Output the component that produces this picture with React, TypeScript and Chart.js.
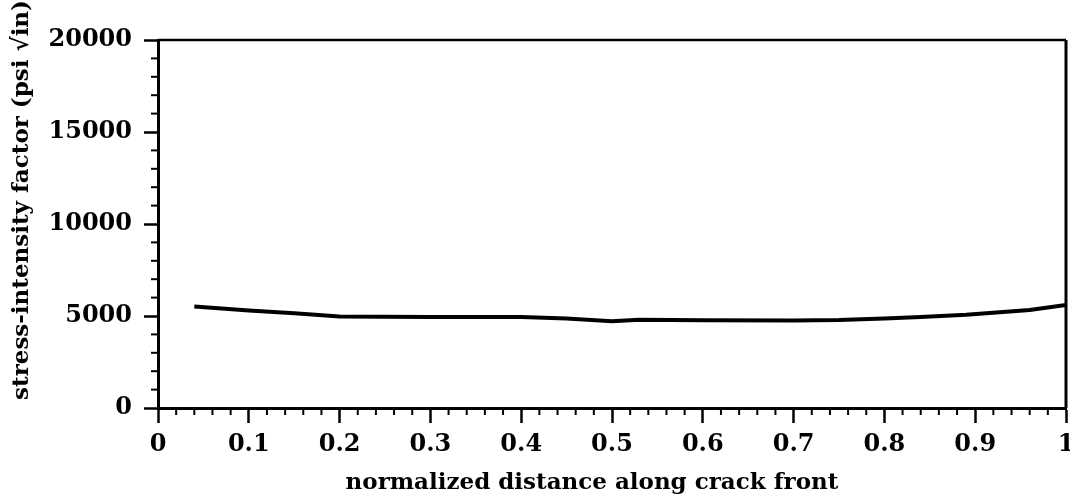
import React, { useEffect, useRef } from "react";
import { Chart, registerables } from "chart.js";

Chart.register(...registerables);

const positions: number[] = [0.04, 0.1, 0.15, 0.2, 0.3, 0.4, 0.45, 0.5, 0.53, 0.6, 0.7, 0.75, 0.8, 0.84, 0.89, 0.96, 1.0];
const stressIntensity: number[] = [5510, 5300, 5150, 4970, 4950, 4950, 4860, 4720, 4790, 4770, 4760, 4780, 4860, 4950, 5070, 5330, 5600];
const xTitle = "normalized distance along crack front";
const yTitle = "stress-intensity factor (psi \u221Ain)";
const yMajorStep = 5000;
const yMinorStep = 1000;
const xMajorStep = 0.1;
const xMinorStep = 0.02;

const FONT = "'DejaVu Serif', 'Liberation Serif', serif";

const frameAndMinorTicks = {
  id: "frameAndMinorTicks",
  afterDraw(chart: any) {
    const { ctx, chartArea } = chart;
    const xs = chart.scales.x;
    const ys = chart.scales.y;
    ctx.save();
    ctx.strokeStyle = "#000";
    ctx.lineWidth = 2.5;
    ctx.beginPath();
    ctx.moveTo(chartArea.left, chartArea.top);
    ctx.lineTo(chartArea.right, chartArea.top);
    ctx.stroke();
    ctx.lineWidth = 3;
    ctx.beginPath();
    ctx.moveTo(chartArea.right, chartArea.top);
    ctx.lineTo(chartArea.right, chartArea.bottom);
    ctx.stroke();
    ctx.lineWidth = 2;
    for (let v = 0; v <= ys.max + 1e-6; v += yMinorStep) {
      if (Math.abs(v % yMajorStep) < 1e-6) continue;
      const p = ys.getPixelForValue(v);
      ctx.beginPath();
      ctx.moveTo(chartArea.left - 7, p);
      ctx.lineTo(chartArea.left, p);
      ctx.stroke();
    }
    const ratio = Math.round(xMajorStep / xMinorStep);
    for (let i = 0; i * xMinorStep <= xs.max + 1e-9; i++) {
      if (i % ratio === 0) continue;
      const p = xs.getPixelForValue(i * xMinorStep);
      ctx.beginPath();
      ctx.moveTo(p, chartArea.bottom);
      ctx.lineTo(p, chartArea.bottom + 7);
      ctx.stroke();
    }
    ctx.restore();
  },
};

export default function App() {
  const ref = useRef<HTMLCanvasElement>(null);
  useEffect(() => {
    if (!ref.current) return;
    const chart = new Chart(ref.current, {
      type: "line",
      data: {
        datasets: [
          {
            data: positions.map((x, i) => ({ x, y: stressIntensity[i] })),
            borderColor: "#000",
            borderWidth: 4,
            pointRadius: 0,
            tension: 0,
            fill: false,
          },
        ],
      },
      options: {
        animation: false,
        responsive: false,
        layout: { padding: { top: 40, right: 4, left: 0, bottom: 0 } },
        plugins: { legend: { display: false }, tooltip: { enabled: false } },
        scales: {
          x: {
            type: "linear",
            min: 0,
            max: 1,
            afterFit: (s: any) => {
              s.height = 94;
              s.paddingLeft = 0;
              s.paddingRight = 0;
            },
            ticks: {
              stepSize: xMajorStep,
              color: "#000",
              padding: 7,
              maxRotation: 0,
              autoSkip: false,
              font: { family: FONT, size: 24, weight: "bold" },
              callback: (v: any) => String(Number(Number(v).toFixed(1))),
            },
            grid: { drawOnChartArea: false, drawTicks: true, tickLength: 15, tickWidth: 2.5, tickColor: "#000" },
            border: { display: true, color: "#000", width: 3 },
            title: {
              display: true,
              text: xTitle + "\u00A0".repeat(5),
              color: "#000",
              font: { family: FONT, size: 23, weight: "bold" },
              padding: { top: 0, bottom: 5 },
            },
          },
          y: {
            type: "linear",
            min: 0,
            max: 20000,
            afterFit: (s: any) => {
              s.width = 158;
            },
            ticks: {
              stepSize: yMajorStep,
              color: "#000",
              padding: 12,
              font: { family: FONT, size: 24, weight: "bold" },
              callback: (v: any) => String(v),
            },
            grid: { drawOnChartArea: false, drawTicks: true, tickLength: 14, tickWidth: 2.5, tickColor: "#000" },
            border: { display: true, color: "#000", width: 3 },
            title: {
              display: true,
              text: "\u00A0".repeat(6) + yTitle,
              color: "#000",
              font: { family: FONT, size: 23, weight: "bold" },
              padding: { top: 8, bottom: 0 },
            },
          },
        },
      },
      plugins: [frameAndMinorTicks],
    });
    return () => chart.destroy();
  }, []);
  return (
    <div style={{ position: "fixed", left: 0, top: 0, width: 1070, height: 502, background: "#fff" }}>
      <canvas ref={ref} width={1070} height={502} style={{ display: "block" }} />
    </div>
  );
}
